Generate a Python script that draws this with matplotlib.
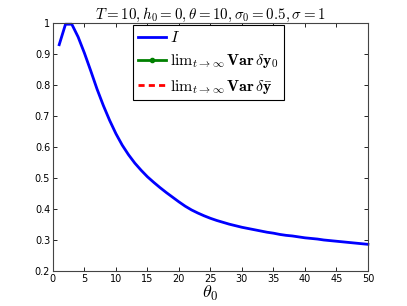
import numpy as np
import matplotlib
matplotlib.use('Agg')
import matplotlib.pyplot as plt

plt.rcParams['mathtext.fontset'] = 'cm'
plt.rcParams['font.family'] = 'DejaVu Sans'

# theta_0 values and the I curve
theta0 = list(range(1, 51))
I_vals = [0.93, 0.996, 0.996, 0.955, 0.903, 0.846, 0.787, 0.734, 0.686, 0.643,
          0.606, 0.575, 0.548, 0.525, 0.504, 0.486, 0.469, 0.453, 0.438, 0.423,
          0.409, 0.397, 0.387, 0.378, 0.370, 0.363, 0.357, 0.351, 0.346, 0.341,
          0.337, 0.333, 0.329, 0.325, 0.322, 0.318, 0.315, 0.313, 0.310, 0.307,
          0.305, 0.303, 0.300, 0.298, 0.296, 0.294, 0.292, 0.290, 0.288, 0.286]
# the other two series are not visible in the plot area
var_y0 = []
var_ybar = []

xticks = list(range(0, 51, 5))
yticks = [0.2, 0.3, 0.4, 0.5, 0.6, 0.7, 0.8, 0.9, 1.0]
ytick_labels = ['0.2', '0.3', '0.4', '0.5', '0.6', '0.7', '0.8', '0.9', '1']

fig = plt.figure(figsize=(4.07, 3.06), dpi=100)
ax = fig.add_axes([0.130, 0.1144, 0.774, 0.8105])

ax.plot(theta0, I_vals, color='blue', lw=2, label='$I$', clip_on=False)
ax.plot(theta0[:len(var_y0)], var_y0, color='green', lw=2, marker='o', ms=3,
        label=r'$\mathrm{lim}_{t\to\infty}\,\mathbf{Var}\,\delta\mathbf{y_0}$')
ax.plot(theta0[:len(var_ybar)], var_ybar, color='red', lw=2, ls=(0, (2.2, 1.5)),
        label=r'$\mathrm{lim}_{t\to\infty}\,\mathbf{Var}\,\delta\bar{\mathbf{y}}$')

ax.set_xlim(0, 50)
ax.set_ylim(0.2, 1.0)
ax.set_xticks(xticks)
ax.set_yticks(yticks)
ax.set_yticklabels(ytick_labels)
ax.tick_params(direction='in', top=True, right=True, labelsize=7, length=3, width=0.6, pad=2)
for s in ax.spines.values():
    s.set_linewidth(0.8)
    s.set_color('#444444')

ax.set_title(r'$T=10, h_0=0, \theta=10, \sigma_0=0.5, \sigma=1$', fontsize=10.8, pad=3)
ax.set_xlabel(r'$\theta_0$', fontsize=13, labelpad=0)

leg = ax.legend(loc='upper left', bbox_to_anchor=(0.254, 0.99), fontsize=11.5,
                fancybox=False, edgecolor='black', framealpha=1,
                handlelength=1.8, handletextpad=0.25, borderpad=0.3, labelspacing=0.45,
                borderaxespad=0)
leg.get_frame().set_linewidth(0.8)

plt.savefig('out.png', dpi=100)
